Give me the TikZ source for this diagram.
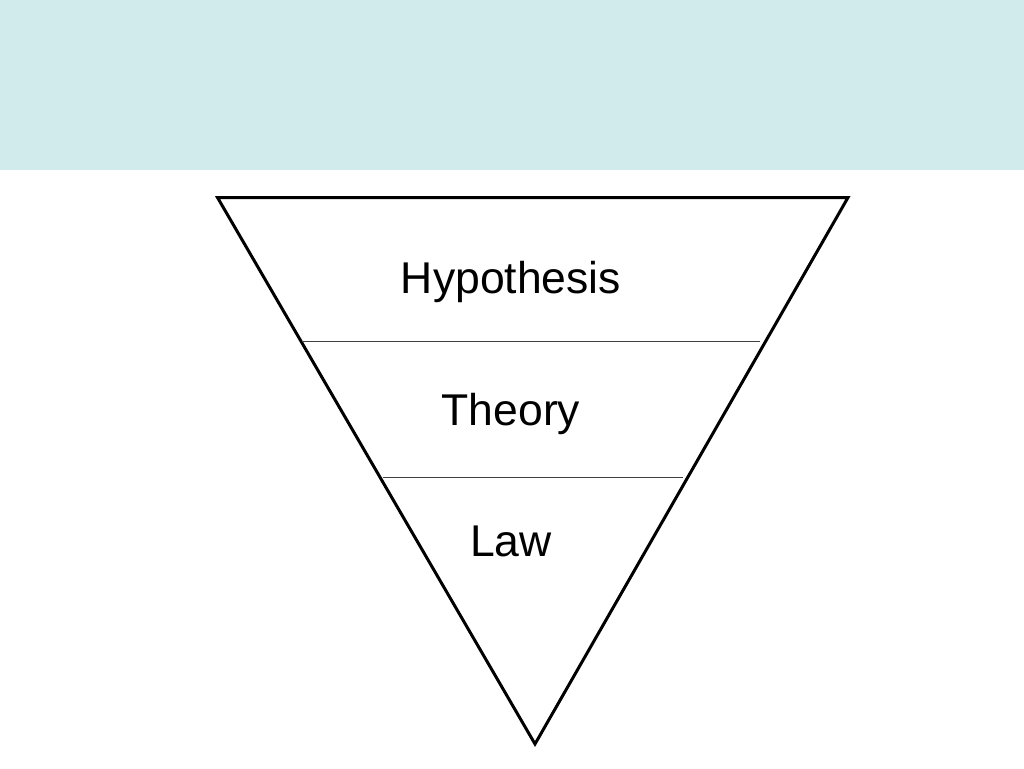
\documentclass[tikz,border=0pt]{standalone}
\usepackage{fontspec}
\setmainfont{Liberation Sans}
\definecolor{band}{HTML}{D1EAEC}
\definecolor{sepgray}{HTML}{404040}
\tikzset{
  lbl/.style={anchor=base, font=\fontsize{44.5}{50}\selectfont, text=black, inner sep=0pt},
  tri/.style={draw=black, line width=3pt, line join=miter},
  sep/.style={draw=sepgray, line width=1pt}
}
\begin{document}
\begin{tikzpicture}[x=1pt,y=-1pt]
\useasboundingbox (0,0) rectangle (1024,768);
\fill[band] (0,0) rectangle (1024,170);
\coordinate (tl) at (217.5,197.5);
\coordinate (tr) at (848,197.5);
\coordinate (bt) at (535,744);
\draw[tri] (tl) -- (tr) -- (bt) -- cycle;
\coordinate (s1l) at (301.5,341);
\coordinate (s1r) at (760,341);
\coordinate (s2l) at (383,477.5);
\coordinate (s2r) at (683,477.5);
\draw[sep] (s1l) -- (s1r);
\draw[sep] (s2l) -- (s2r);
\node[lbl] (hyp) at (511,293) {Hypothesis};
\node[lbl] (theo) at (511,425) {Theory};
\node[lbl] (law) at (511,556) {Law};
\end{tikzpicture}
\end{document}
